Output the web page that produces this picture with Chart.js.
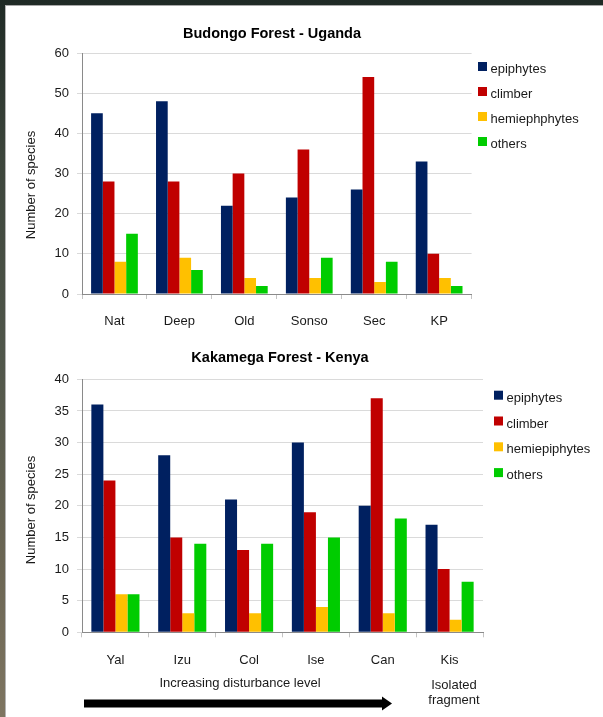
<!DOCTYPE html>
<html>
<head>
<meta charset="utf-8">
<script src="https://cdn.jsdelivr.net/npm/chart.js@4.4.1/dist/chart.umd.min.js"></script>
<style>
  html, body { margin: 0; padding: 0; }
  body {
    width: 603px; height: 717px; position: relative; overflow: hidden;
    background: linear-gradient(180deg, #1f2a25 0%, #3c453b 22%, #50564a 50%, #6a6553 78%, #7e7561 100%);
  }
  #panel {
    position: absolute; left: 5px; top: 5px; width: 598px; height: 712px;
    background: #fff; border-left: 1px solid #b4b4b4; border-top: 1px solid #a8a8a8;
  }
  canvas { position: absolute; left: 0; }
  #budongo { top: 0; }
  #kakamega { top: 345px; }
</style>
</head>
<body>
<div id="panel"></div>
<canvas id="budongo" width="603" height="345"></canvas>
<canvas id="kakamega" width="603" height="372"></canvas>
<script>
// ---- data ----
const budongoSites = ['Nat', 'Deep', 'Old', 'Sonso', 'Sec', 'KP'];
const budongoEpiphytes = [45, 48, 22, 24, 26, 33];
const budongoClimber = [28, 28, 30, 36, 54, 10];
const budongoHemi = [8, 9, 4, 4, 3, 4];
const budongoOthers = [15, 6, 2, 9, 8, 2];
const budongoSeriesNames = ['epiphytes', 'climber', 'hemiephphytes', 'others'];

const kakamegaSites = ['Yal', 'Izu', 'Col', 'Ise', 'Can', 'Kis'];
const kakamegaEpiphytes = [36, 28, 21, 30, 20, 17];
const kakamegaClimber = [24, 15, 13, 19, 37, 10];
const kakamegaHemi = [6, 3, 3, 4, 3, 2];
const kakamegaOthers = [6, 14, 14, 15, 18, 8];
const kakamegaSeriesNames = ['epiphytes', 'climber', 'hemiepiphytes', 'others'];

const seriesColors = ['#002060', '#C00000', '#FFC000', '#00CC00'];

const FONT = '"Liberation Sans", Arial, Helvetica, sans-serif';
const TEXT = '#1a1a1a';

// Titles, rotated axis title, legend and notes drawn on the chart canvas
const slideText = {
  id: 'slideText',
  afterDraw(chart, args, o) {
    const ctx = chart.ctx;
    ctx.save();
    ctx.fillStyle = '#000';
    ctx.font = `bold ${o.titleSize}px ${FONT}`;
    ctx.textAlign = 'center';
    ctx.textBaseline = 'alphabetic';
    ctx.fillText(o.title, o.titleX, o.titleY);

    ctx.save();
    ctx.translate(o.yTitleX, o.yTitleY);
    ctx.rotate(-Math.PI / 2);
    ctx.font = `13px ${FONT}`;
    ctx.fillStyle = TEXT;
    ctx.textAlign = 'center';
    ctx.fillText(o.yTitle, 0, 0);
    ctx.restore();

    ctx.font = `13px ${FONT}`;
    ctx.textAlign = 'left';
    chart.data.datasets.forEach((ds, i) => {
      const top = o.legendTop + i * o.legendGap;
      ctx.fillStyle = ds.backgroundColor;
      ctx.fillRect(o.legendX, top, 9, 9);
      ctx.fillStyle = TEXT;
      ctx.fillText(ds.label, o.legendX + 12.5, top + o.legendBase);
    });

    if (o.extra) o.extra(ctx, chart);
    ctx.restore();
  }
};

function buildChart(id, sites, series, names, yMax, yStep, padding, text) {
  const datasets = series.map((vals, i) => ({
    label: names[i],
    data: vals,
    backgroundColor: seriesColors[i],
    borderWidth: 0,
    categoryPercentage: 0.72,
    barPercentage: 1.0
  }));
  return new Chart(document.getElementById(id), {
    type: 'bar',
    data: { labels: sites, datasets },
    plugins: [slideText],
    options: {
      responsive: false,
      devicePixelRatio: 1,
      animation: false,
      events: [],
      layout: { padding },
      plugins: {
        legend: { display: false },
        title: { display: false },
        tooltip: { enabled: false },
        slideText: text
      },
      scales: {
        x: {
          offset: true,
          grid: { offset: true, drawOnChartArea: false, drawTicks: true, tickLength: 5, color: '#c4c4c4' },
          border: { display: true, color: '#8a8a8a', z: 1 },
          ticks: { font: { family: FONT, size: 13 }, color: TEXT, padding: 15, maxRotation: 0, autoSkip: false },
          afterFit(s) { s.height = 40; }
        },
        y: {
          min: 0, max: yMax,
          ticks: { stepSize: yStep, font: { family: FONT, size: 13 }, color: TEXT, padding: 8 },
          grid: { color: '#dadada', tickLength: 5, drawTicks: true },
          border: { display: true, color: '#8a8a8a', z: 1 },
          afterFit(s) { s.width = 60; }
        }
      }
    }
  });
}

buildChart('budongo', budongoSites,
  [budongoEpiphytes, budongoClimber, budongoHemi, budongoOthers],
  budongoSeriesNames, 60, 10,
  { left: 22, right: 131.4, top: 53, bottom: 11 },
  {
    title: 'Budongo Forest - Uganda', titleSize: 14.5, titleX: 272, titleY: 37.5,
    yTitle: 'Number of species', yTitleX: 35, yTitleY: 185,
    legendX: 478, legendTop: 62, legendGap: 25, legendBase: 10.5
  });

buildChart('kakamega', kakamegaSites,
  [kakamegaEpiphytes, kakamegaClimber, kakamegaHemi, kakamegaOthers],
  kakamegaSeriesNames, 40, 5,
  { left: 22, right: 120, top: 34.3, bottom: 44.7 },
  {
    title: 'Kakamega Forest - Kenya', titleSize: 14.5, titleX: 280, titleY: 16.5,
    yTitle: 'Number of species', yTitleX: 35, yTitleY: 165,
    legendX: 494, legendTop: 45.7, legendGap: 25.8, legendBase: 11,
    extra(ctx) {
      ctx.font = `13px ${FONT}`;
      ctx.fillStyle = TEXT;
      ctx.textAlign = 'center';
      ctx.fillText('Increasing disturbance level', 240, 342);
      ctx.fillText('Isolated', 454, 344);
      ctx.fillText('fragment', 454, 359);
      // disturbance arrow
      ctx.fillStyle = '#000';
      ctx.fillRect(84, 354.5, 299, 8);
      ctx.beginPath();
      ctx.moveTo(382, 351.5);
      ctx.lineTo(392, 358.5);
      ctx.lineTo(382, 365.5);
      ctx.closePath();
      ctx.fill();
    }
  });
</script>
</body>
</html>
